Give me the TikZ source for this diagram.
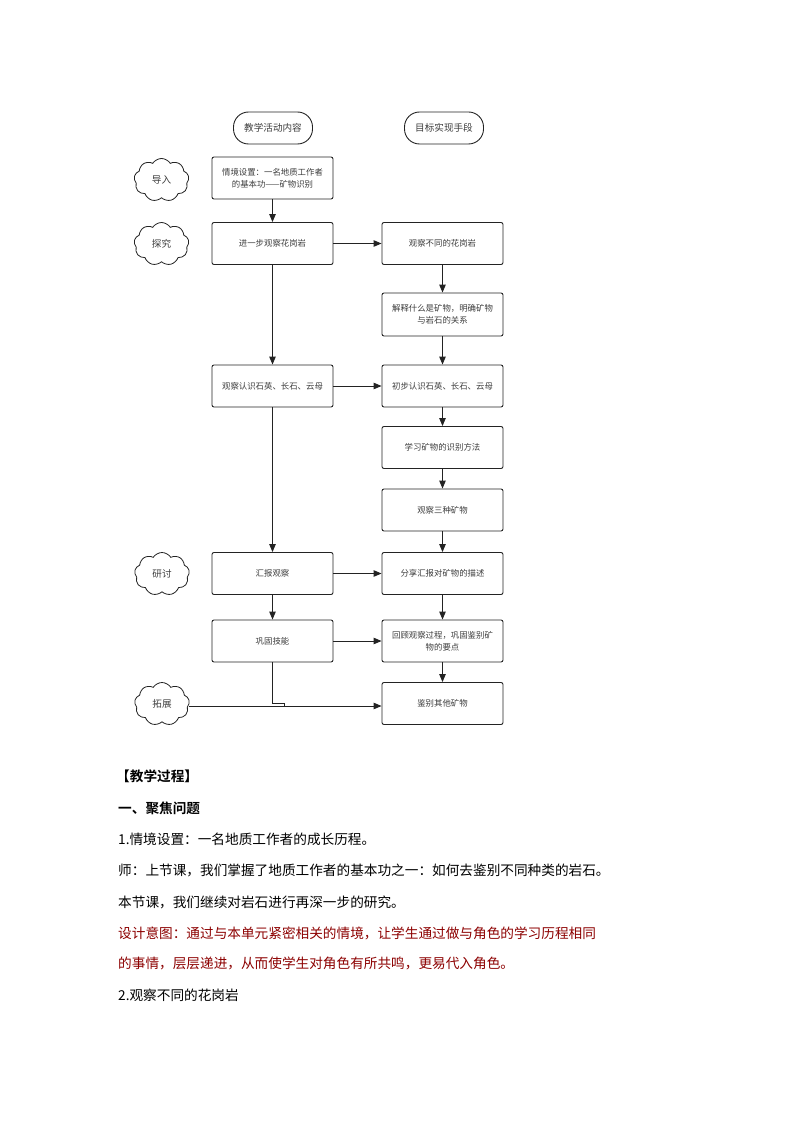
\documentclass[tikz,border=0pt]{standalone}
\usepackage{fontspec}
\setmainfont{Noto Sans CJK SC}
\newfontfamily\cjkb[BoldFont={* Bold}]{Noto Sans CJK SC}
\usetikzlibrary{shapes.symbols,arrows.meta}
\definecolor{ink}{RGB}{35,35,35}
\definecolor{txt}{RGB}{60,60,60}
\definecolor{redtxt}{RGB}{140,0,0}
\tikzset{
  box/.style={draw=ink, line width=0.9pt, rounded corners=2pt, minimum width=121pt, minimum height=42pt, inner sep=2pt, align=center, text=txt, font=\fontsize{8.4}{12}\selectfont},
  hdr/.style={draw=ink, line width=0.9pt, rounded corners=15pt, minimum width=79pt, minimum height=32pt, inner sep=2pt, text=txt, font=\fontsize{9.6}{12}\selectfont},
  cld/.style={draw=ink, line width=0.8pt, cloud, cloud puffs=9, cloud puff arc=115, minimum width=55pt, minimum height=43pt, inner sep=0pt, text=txt, font=\fontsize{9.6}{12}\selectfont},
  arr/.style={draw=ink, line width=0.9pt, -{Triangle[length=8pt,width=6.5pt]}},
  ln/.style={draw=ink, line width=0.9pt},
  body/.style={anchor=west, inner sep=0pt, font=\fontsize{13.65}{16}\selectfont, text=black},
}
\begin{document}
\begin{tikzpicture}[x=1pt,y=-1pt]
\useasboundingbox (0,0) rectangle (794,1123);
% headers
\node[hdr] (h1) at (273,128) {教学活动内容};
\node[hdr] (h2) at (444,128) {目标实现手段};
% left column
\node[box] (a1) at (272.5,178) {情境设置：一名地质工作者\\的基本功——矿物识别};
\node[box] (a2) at (272.5,243.5) {进一步观察花岗岩};
\node[box] (a3) at (272.5,386) {观察认识石英、长石、云母};
\node[box] (a4) at (272.5,573.5) {汇报观察};
\node[box] (a5) at (272.5,641) {巩固技能};
% right column
\node[box] (b1) at (442.5,243.5) {观察不同的花岗岩};
\node[box, minimum height=43pt] (b2) at (442.5,314.5) {解释什么是矿物，明确矿物\\与岩石的关系};
\node[box] (b3) at (442.5,386) {初步认识石英、长石、云母};
\node[box] (b4) at (442.5,447.5) {学习矿物的识别方法};
\node[box] (b5) at (442.5,510) {观察三种矿物};
\node[box] (b6) at (442.5,573.5) {分享汇报对矿物的描述};
\node[box] (b7) at (442.5,641) {回顾观察过程，巩固鉴别矿\\物的要点};
\node[box] (b8) at (442.5,703.5) {鉴别其他矿物};
% clouds
\node[cld] (c1) at (161.5,180) {导入};
\node[cld] (c2) at (161.5,244) {探究};
\node[cld] (c3) at (162,574) {研讨};
\node[cld] (c4) at (162,704) {拓展};
% connectors
\draw[arr] (a1) -- (a2);
\draw[arr] (a2) -- (b1);
\draw[arr] (a2) -- (a3);
\draw[arr] (b1) -- (b2);
\draw[arr] (b2) -- (b3);
\draw[arr] (a3) -- (b3);
\draw[arr] (a3) -- (a4);
\draw[arr] (b3) -- (b4);
\draw[arr] (b4) -- (b5);
\draw[arr] (b5) -- (b6);
\draw[arr] (a4) -- (b6);
\draw[arr] (a4) -- (a5);
\draw[arr] (a5) -- (b7);
\draw[arr] (b6) -- (b7);
\draw[arr] (b7) -- (b8);
\coordinate (j) at (284,703);
\coordinate (m) at (284,706);
\draw[ln] (a5.south) |- (j) -- (m);
\draw[arr] (c4.east |- m) -- (m -| b8.west);
% body text
\node[body, font=\cjkb\bfseries\fontsize{13.65}{16}\selectfont] (t1) at (116,776) {【教学过程】};
\node[body, font=\cjkb\bfseries\fontsize{13.65}{16}\selectfont] (t2) at (118,808) {一、聚焦问题};
\node[body] (t3) at (118,839) {1.情境设置：一名地质工作者的成长历程。};
\node[body] (t4) at (118,870) {师：上节课，我们掌握了地质工作者的基本功之一：如何去鉴别不同种类的岩石。};
\node[body] (t5) at (118,902) {本节课，我们继续对岩石进行再深一步的研究。};
\node[body, text=redtxt] (t6) at (118,933) {设计意图：通过与本单元紧密相关的情境，让学生通过做与角色的学习历程相同};
\node[body, text=redtxt] (t7) at (118,963) {的事情，层层递进，从而使学生对角色有所共鸣，更易代入角色。};
\node[body] (t8) at (118,995) {2.观察不同的花岗岩};
\end{tikzpicture}
\end{document}
